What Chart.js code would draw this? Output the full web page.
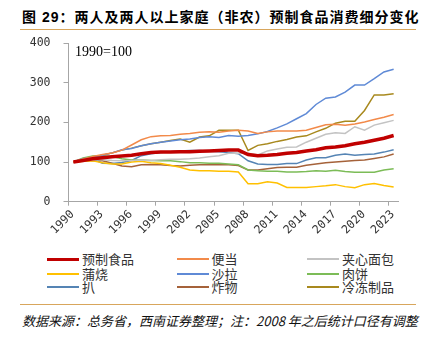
<!DOCTYPE html>
<html>
<head>
<meta charset="utf-8">
<script src="https://cdn.jsdelivr.net/npm/chart.js@4"></script>
<style>
  body { margin: 0; width: 427px; height: 343px; background: #fff; position: relative; overflow: hidden; }
  .title { position: absolute; left: 22px; top: 6px; font: bold 14px "Liberation Sans", "Noto Sans CJK SC"; letter-spacing: 1px; color: #000; white-space: nowrap; }
  .rule { position: absolute; left: 20px; width: 396px; height: 0; border-top: 1.5px solid #d8a65c; }
  #chartBox { position: absolute; left: 0; top: 0; width: 427px; height: 245px; }
  .base-note { position: absolute; left: 75px; top: 44px; font: 14px "Liberation Serif"; color: #000; }
  .legend-item { position: absolute; height: 14px; font: 13px "Noto Sans CJK SC"; color: #333; white-space: nowrap; }
  .legend-item i { position: absolute; left: 0; width: 32px; top: 7px; }
  .legend-item span { position: absolute; left: 35px; top: -2px; }
  .source { position: absolute; left: 22px; top: 311px; font: italic 13px "Noto Sans CJK SC"; color: #111; white-space: nowrap; }
</style>
</head>
<body>
<div class="title">图 29：两人及两人以上家庭（非农）预制食品消费细分变化</div>
<div class="rule" style="top:29px"></div>
<div id="chartBox"><canvas id="foodChart"></canvas></div>
<div class="base-note">1990=100</div>
<div id="legend"></div>
<div class="rule" style="top:304px"></div>
<div class="source">数据来源：总务省，西南证券整理；注：2008 年之后统计口径有调整</div>

<script>
// 1990-2023
const years = [];
for (let y = 1990; y <= 2023; y++) years.push(y);

const yAxisTicks = [0, 100, 200, 300, 400];
const xTickYears = [1990, 1993, 1996, 1999, 2002, 2005, 2008, 2011, 2014, 2017, 2020, 2023];

const seriesNames = ['预制食品', '便当', '夹心面包', '蒲烧', '沙拉', '肉饼', '扒', '炸物', '冷冻制品'];

const prepared = [100, 104, 108, 111, 113, 115, 117, 121, 124, 125, 125, 126, 126, 127, 128, 129, 130,
    130, 119, 116, 117, 119, 122, 124, 128, 131, 136, 138, 141, 146, 150, 155, 160, 167];
const bento = [100, 108, 114, 119, 123, 130, 143, 156, 164, 166, 167, 170, 172, 175, 176, 175, 178,
    180, 178, 172, 176, 178, 178, 178, 180, 187, 194, 195, 193, 196, 201, 207, 213, 220];
const sandwich = [100, 104, 106, 106, 104, 103, 104, 105, 104, 106, 107, 107, 108, 110, 113, 116, 122,
    123, 122, 118, 128, 133, 137, 138, 150, 160, 170, 174, 172, 189, 180, 193, 199, 205];
const kabayaki = [100, 102, 103, 98, 95, 95, 100, 102, 98, 96, 92, 87, 80, 78, 78, 77, 77,
    75, 45, 45, 50, 47, 36, 36, 36, 38, 40, 43, 38, 35, 43, 46, 41, 37];
const salad = [100, 108, 113, 117, 123, 131, 134, 141, 146, 150, 153, 156, 158, 162, 164, 162, 167,
    165, 167, 171, 177, 186, 196, 209, 222, 245, 261, 264, 276, 294, 294, 310, 327, 334];
const hamburg = [100, 110, 115, 116, 114, 108, 105, 105, 104, 103, 103, 101, 98, 98, 97, 97, 95,
    93, 80, 78, 77, 77, 75, 75, 76, 78, 77, 79, 76, 74, 74, 74, 80, 83];
const steak = [100, 106, 108, 97, 96, 99, 104, 116, 121, 124, 126, 128, 129, 129, 127, 126, 124,
    121, 103, 95, 94, 94, 96, 96, 105, 111, 111, 117, 120, 117, 119, 120, 125, 131];
const fried = [100, 103, 104, 103, 97, 90, 88, 93, 94, 93, 91, 90, 92, 93, 93, 93, 93,
    91, 80, 80, 83, 86, 87, 87, 92, 95, 98, 100, 102, 104, 105, 109, 113, 120];
const frozen = [100, 107, 113, 117, 123, 130, 135, 141, 146, 150, 154, 158, 150, 163, 166, 180, 180,
    180, 129, 142, 146, 152, 157, 163, 166, 176, 185, 198, 203, 203, 230, 269, 269, 272];

const seriesValues = [prepared, bento, sandwich, kabayaki, salad, hamburg, steak, fried, frozen];
const seriesColors = ['#c00000', '#f28a4a', '#c3c3c3', '#ffc000', '#5f8ad6', '#7cbc57', '#5584b4', '#a5623a', '#a8891e'];
const seriesWidths = [3.5, 1.5, 1.5, 1.5, 1.5, 1.5, 1.5, 1.5, 1.5];

const monoFont = { family: 'DejaVu Sans Mono', size: 11.5 };

const datasets = seriesNames.map((name, i) => ({
    label: name,
    data: seriesValues[i].map((v, k) => ({ x: years[k], y: v })),
    borderColor: seriesColors[i],
    backgroundColor: seriesColors[i],
    borderWidth: seriesWidths[i],
    pointRadius: 0,
    tension: 0,
    fill: false
}));

const chart = new Chart(document.getElementById('foodChart'), {
    type: 'line',
    data: { datasets },
    options: {
        responsive: true,
        maintainAspectRatio: false,
        animation: false,
        layout: { padding: { top: 43, right: 28.5, left: 0, bottom: 0 } },
        plugins: { legend: { display: false }, tooltip: { enabled: false } },
        scales: {
            x: {
                type: 'linear',
                min: years[0] - 0.5,
                max: years[years.length - 1] + 0.5,
                afterBuildTicks: (scale) => {
                    scale.ticks = xTickYears.map(y => ({ value: y - 0.5 }));
                },
                afterFit: (scale) => { scale.height = 43.3; },
                ticks: {
                    autoSkip: false,
                    minRotation: 45,
                    maxRotation: 45,
                    labelOffset: 4,
                    padding: 2,
                    color: '#333',
                    font: monoFont,
                    callback: (v) => String(v + 0.5)
                },
                grid: { drawOnChartArea: false, drawTicks: true, tickLength: 4, color: '#a6a6a6' },
                border: { color: '#a6a6a6', width: 1 }
            },
            y: {
                min: 0,
                max: 400,
                afterBuildTicks: (scale) => {
                    scale.ticks = yAxisTicks.map(v => ({ value: v }));
                },
                afterFit: (scale) => { scale.width = 68.5; },
                ticks: { color: '#333', font: monoFont, padding: 13 },
                grid: { drawOnChartArea: false, drawTicks: true, tickLength: 5, color: '#a6a6a6' },
                border: { color: '#a6a6a6', width: 1 }
            }
        }
    }
});

// legend in three columns, filled row by row
const legendCols = [47, 176.5, 307];
const legendRows = [250.5, 265.5, 279];
const legendBox = document.getElementById('legend');
chart.data.datasets.forEach((ds, i) => {
    const item = document.createElement('div');
    item.className = 'legend-item';
    item.style.left = legendCols[i % 3] + 'px';
    item.style.top = legendRows[Math.floor(i / 3)] + 'px';
    item.innerHTML = `<i style="border-top:${i === 0 ? 3 : 2}px solid ${ds.borderColor}"></i><span>${ds.label}</span>`;
    legendBox.appendChild(item);
});
</script>
</body>
</html>
